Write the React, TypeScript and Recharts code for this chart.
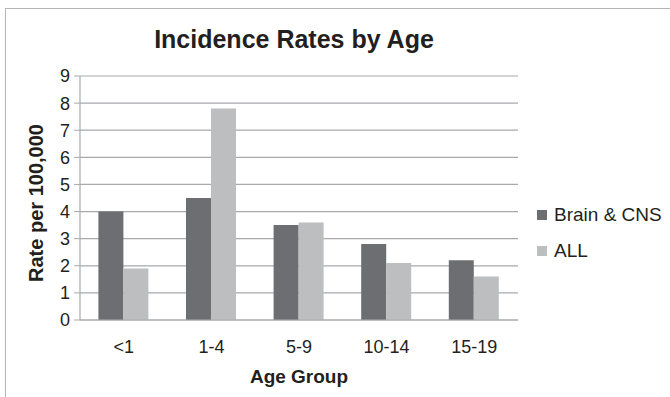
import { BarChart, Bar, XAxis, YAxis, CartesianGrid } from "recharts";

const ageGroups = ["<1", "1-4", "5-9", "10-14", "15-19"];
const brainCns = [4.0, 4.5, 3.5, 2.8, 2.2];
const allRates = [1.9, 7.8, 3.6, 2.1, 1.6];
const yTicks = [0, 1, 2, 3, 4, 5, 6, 7, 8, 9];
const boundaryTicks = [0, 1, 2, 3, 4, 5];

const data = ageGroups.map((group, i) => ({
  group,
  idx: i + 0.5,
  brain: brainCns[i],
  all: allRates[i],
}));

const DARK = "#6d6e71";
const LIGHT = "#bcbec0";
const FONT = "'Liberation Sans', Arial, sans-serif";

const App = () => {
  return (
    <div
      style={{
        position: "absolute",
        left: 0,
        top: 0,
        width: 670,
        height: 397,
        overflow: "hidden",
        background: "#fff",
        fontFamily: FONT,
        color: "#231f20",
      }}
    >
      {/* chart frame, runs off the right and bottom edge */}
      <div
        style={{
          position: "absolute",
          left: 5,
          top: 8,
          width: 700,
          height: 420,
          border: "1px solid #b5b5b5",
        }}
      />
      <div
        style={{
          position: "absolute",
          left: 0,
          width: 588,
          top: 25,
          textAlign: "center",
          fontSize: 25,
          fontWeight: "bold",
        }}
      >
        Incidence Rates by Age
      </div>
      <div
        style={{
          position: "absolute",
          left: 36,
          top: 203,
          transform: "translate(-50%, -50%) rotate(-90deg)",
          whiteSpace: "nowrap",
          fontSize: 20,
          fontWeight: "bold",
        }}
      >
        Rate per 100,000
      </div>
      <div
        style={{
          position: "absolute",
          left: 80,
          width: 438,
          top: 366,
          textAlign: "center",
          fontSize: 19,
          fontWeight: "bold",
        }}
      >
        Age Group
      </div>

      <div style={{ position: "absolute", left: 0, top: 0 }}>
        <BarChart
          width={670}
          height={397}
          data={data}
          margin={{ top: 76, right: 152, bottom: 47, left: 50 }}
          barCategoryGap="21%"
          barGap={0}
        >
          <CartesianGrid vertical={false} stroke="#a7a9ac" strokeWidth={1.2} />
          <XAxis
            xAxisId="bounds"
            type="number"
            dataKey="idx"
            domain={[0, 5]}
            ticks={boundaryTicks}
            tickFormatter={() => ""}
            height={0}
            axisLine={false}
            tickLine={{ stroke: "#a7a9ac" }}
            tickSize={6}
          />
          <XAxis
            xAxisId="cat"
            dataKey="group"
            height={30}
            axisLine={{ stroke: "#a7a9ac", strokeWidth: 1.2 }}
            tickLine={false}
            tick={{ fontSize: 18, fill: "#231f20", fontFamily: FONT }}
            tickMargin={14}
            interval={0}
          />
          <YAxis
            domain={[0, 9]}
            ticks={yTicks}
            width={30}
            axisLine={{ stroke: "#a7a9ac", strokeWidth: 1.2 }}
            tickLine={{ stroke: "#a7a9ac" }}
            tickSize={6}
            tick={{ fontSize: 18, fill: "#231f20", fontFamily: FONT }}
            tickMargin={4}
          />
          <Bar xAxisId="cat" dataKey="brain" name="Brain & CNS" fill={DARK} isAnimationActive={false} />
          <Bar xAxisId="cat" dataKey="all" name="ALL" fill={LIGHT} isAnimationActive={false} />
        </BarChart>
      </div>

      <div style={{ position: "absolute", left: 537, top: 197, fontSize: 19 }}>
        {[
          { name: "Brain & CNS", color: DARK },
          { name: "ALL", color: LIGHT },
        ].map((item) => (
          <div key={item.name} style={{ display: "flex", alignItems: "center", height: 36 }}>
            <div style={{ width: 10, height: 10, background: item.color, marginRight: 7 }} />
            <span>{item.name}</span>
          </div>
        ))}
      </div>
    </div>
  );
};

export default App;
